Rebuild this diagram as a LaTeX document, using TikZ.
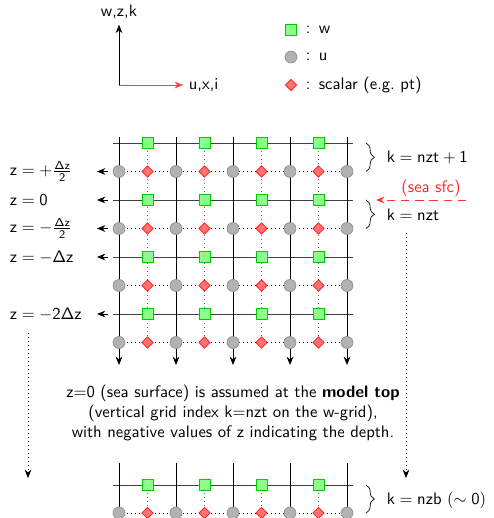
\documentclass[tikz,border=0pt]{standalone}
\usepackage{amsmath}
\usepackage{xcolor}
\usepackage{tikz}
\usetikzlibrary{positioning, arrows.meta, decorations.pathreplacing, shapes.geometric}
\renewcommand{\familydefault}{\sfdefault}

\begin{document}
\begin{tikzpicture}[x=0.0211cm, y=-0.0211cm,
  wpt/.style={rectangle, draw=green!80!black, fill=green!45, minimum size=6.6pt, inner sep=0pt},
  upt/.style={circle, draw=black!45, fill=black!30, minimum size=7.2pt, inner sep=0pt},
  spt/.style={diamond, draw=red!90, fill=red!55, minimum size=7pt, inner sep=0pt},
  >={Stealth[length=5pt, width=4pt]}]

  \useasboundingbox (0,0) rectangle (493,518);
  \clip (0,0) rectangle (493,518);

  % ── axes ──
  \coordinate (orig) at (119,85);
  \node (zax) at (119,12) {w,z,k};
  \node[anchor=west] (xax) at (183,85) {u,x,i};
  \draw[->, black] (orig) -- (zax.south);
  \draw[->, red!75] (orig) -- (xax.west);

  % ── legend ──
  \node[wpt] (legw) at (291,30) {};
  \node[upt] (legu) at (291,57) {};
  \node[spt] (legs) at (291,85) {};
  \node[anchor=west] (legwt) at (300,30) {:\enspace w};
  \node[anchor=west] (legut) at (300,57) {:\enspace u};
  \node[anchor=west] (legst) at (300,85) {:\enspace scalar (e.g.\ pt)};

  % ── upper block: dotted staggered links ──
  \foreach \i in {0,...,3} {
    \pgfmathsetmacro{\xw}{147.5+57*\i}
    \draw[dotted, black!55] (\xw,143) -- (\xw,342);
  }
  \foreach \j in {0,...,3} {
    \pgfmathsetmacro{\yu}{171.5+57*\j}
    \draw[dotted] (119,\yu) -- (347,\yu);
  }

  % grid lines
  \foreach \j in {0,...,3} {
    \pgfmathsetmacro{\yw}{143+57*\j}
    \draw[black!75] (113,\yw) -- (353,\yw);
  }
  \foreach \i in {0,...,4} {
    \pgfmathsetmacro{\xu}{119+57*\i}
    \draw[->] (\xu,137) -- (\xu,365);
  }

  % markers
  \foreach \j in {0,...,3} {
    \foreach \i in {0,...,4} {
      \node[upt] (u-\j-\i) at ({119+57*\i},{171.5+57*\j}) {};
    }
    \foreach \i in {0,...,3} {
      \node[wpt] (w-\j-\i) at ({147.5+57*\i},{143+57*\j}) {};
      \node[spt] (s-\j-\i) at ({147.5+57*\i},{171.5+57*\j}) {};
    }
  }

  % ── z labels ──
  \foreach \y/\txt in {171.5/{$\mathsf{z = +\frac{\Delta z}{2}}$},
                       200/{$\mathsf{z = 0}$},
                       228.5/{$\mathsf{z = -\frac{\Delta z}{2}}$},
                       257/{$\mathsf{z = -\Delta z}$},
                       314/{$\mathsf{z = -2\Delta z}$}} {
    \node[anchor=west] at (4,\y) {\txt};
    \draw[->] (108,\y) -- (97,\y);
  }
  \draw[->, dotted] (28,333) -- (28,478);

  % ── k labels ──
  \draw[decorate, decoration={brace, amplitude=5pt}] (366,143) -- (366,171.5);
  \node[anchor=west] (ktop) at (381,157) {$\mathsf{k = nzt + 1}$};
  \draw[decorate, decoration={brace, amplitude=5pt}] (366,200) -- (366,228.5);
  \node[anchor=west] (knzt) at (381,215) {$\mathsf{k = nzt}$};
  \draw[->, red!80, dash pattern=on 5pt off 3.5pt] (466,200) -- (376,200);
  \node[red!85] (sfc) at (431,188) {(sea sfc)};
  \draw[->, dotted] (406,233) -- (406,478);

  % ── note ──
  \node[align=center] (note) at (233,413)
    {z=0 (sea surface) is assumed at the \textbf{model top}\\
     (vertical grid index k=nzt on the w-grid),\\
     with negative values of z indicating the depth.};

  % ── bottom block ──
  \foreach \i in {0,...,3} {
    \pgfmathsetmacro{\xw}{147.5+57*\i}
    \draw[dotted, black!55] (\xw,485) -- (\xw,513);
  }
  \draw[dotted] (119,513) -- (347,513);
  \draw[black!75] (113,485) -- (353,485);
  \foreach \i in {0,...,4} {
    \draw (119+57*\i,463) -- (119+57*\i,530);
    \node[upt] (ub-\i) at ({119+57*\i},513) {};
  }
  \foreach \i in {0,...,3} {
    \node[wpt] (wb-\i) at ({147.5+57*\i},485) {};
    \node[spt] (sb-\i) at ({147.5+57*\i},513) {};
  }
  \draw[decorate, decoration={brace, amplitude=5pt}] (366,485) -- (366,513);
  \node[anchor=west] (kbot) at (381,500) {$\mathsf{k = nzb\ (\sim 0)}$};
\end{tikzpicture}
\end{document}
